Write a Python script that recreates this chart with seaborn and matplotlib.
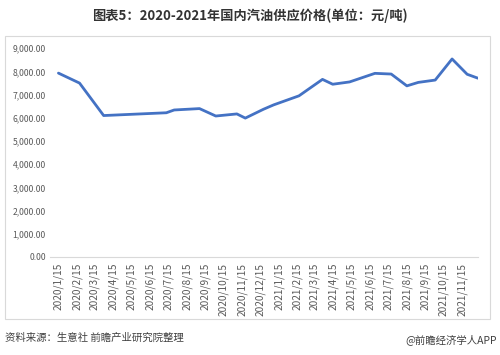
import matplotlib
matplotlib.use("Agg")
import matplotlib.pyplot as plt
from matplotlib.patches import Rectangle
import seaborn as sns
import pandas as pd

title = "图表5：2020-2021年国内汽油供应价格(单位：元/吨)"
source = "资料来源：生意社 前瞻产业研究院整理"
brand = "@前瞻经济学人APP"

dates = ["2020-01-15", "2020-02-19", "2020-03-30", "2020-07-12", "2020-07-25",
         "2020-09-05", "2020-10-02", "2020-11-06", "2020-11-20", "2020-12-20",
         "2021-01-06", "2021-02-17", "2021-03-28", "2021-04-14", "2021-05-12",
         "2021-06-23", "2021-07-20", "2021-08-15", "2021-09-03", "2021-10-01",
         "2021-10-29", "2021-11-23", "2021-12-11"]
prices = [7930, 7500, 6100, 6220, 6340, 6400, 6080, 6170, 5990, 6370,
          6560, 6950, 7660, 7450, 7550, 7920, 7890, 7380, 7530, 7630,
          8540, 7880, 7710]

tick_dates = ["2020-01-15", "2020-02-15", "2020-03-15", "2020-04-15", "2020-05-15",
              "2020-06-15", "2020-07-15", "2020-08-15", "2020-09-15", "2020-10-15",
              "2020-11-15", "2020-12-15", "2021-01-15", "2021-02-15", "2021-03-15",
              "2021-04-15", "2021-05-15", "2021-06-15", "2021-07-15", "2021-08-15",
              "2021-09-15", "2021-10-15", "2021-11-15"]
tick_labels = ["2020/1/15", "2020/2/15", "2020/3/15", "2020/4/15", "2020/5/15",
               "2020/6/15", "2020/7/15", "2020/8/15", "2020/9/15", "2020/10/15",
               "2020/11/15", "2020/12/15", "2021/1/15", "2021/2/15", "2021/3/15",
               "2021/4/15", "2021/5/15", "2021/6/15", "2021/7/15", "2021/8/15",
               "2021/9/15", "2021/10/15", "2021/11/15"]
y_ticks = [0, 1000, 2000, 3000, 4000, 5000, 6000, 7000, 8000, 9000]

sns.set_style("white")
plt.rcParams['font.family'] = ['Noto Sans CJK SC', 'DejaVu Sans']

df = pd.DataFrame({"date": pd.to_datetime(dates), "price": prices})

W, H = 500, 355
fig = plt.figure(figsize=(W / 100, H / 100), dpi=100)
ax = fig.add_axes([50 / W, 1 - 257 / H, (478 - 50) / W, (257 - 48.3) / H])

sns.lineplot(data=df, x="date", y="price", ax=ax, color="#4472C4", linewidth=2.0)

x0 = pd.Timestamp("2020-01-15")
ax.set_xlim(x0 - pd.Timedelta(days=14), pd.Timestamp(dates[-1]))
ax.set_ylim(0, 9000)

ax.set_xticks(pd.to_datetime(tick_dates))
ax.set_xticklabels(tick_labels, rotation=90, fontsize=7.3, color="#595959")
ax.set_yticks(y_ticks)
ax.set_yticklabels([f"{v:,.2f}" for v in y_ticks], fontsize=6.2, color="#595959")
ax.tick_params(axis="x", length=0, pad=4)
ax.tick_params(axis="y", length=0, pad=3)
ax.set_xlabel("")
ax.set_ylabel("")
for s in ["top", "right", "left"]:
    ax.spines[s].set_visible(False)
ax.spines["bottom"].set_color("#D9D9D9")
ax.spines["bottom"].set_linewidth(0.8)
ax.grid(False)

# chart border box
fig.patches.append(Rectangle((5 / W, 1 - 319 / H), (490 - 5) / W, (319 - 36) / H,
                             transform=fig.transFigure, fill=False,
                             edgecolor="#D9D9D9", linewidth=0.8))

fig.text(0.5, 1 - 16 / H, title, ha="center", va="center", fontsize=9.5,
         fontweight="bold", color="#333333")
fig.text(5 / W, 1 - 338 / H, source, ha="left", va="center", fontsize=7.5, color="#404040")
fig.text(497 / W, 1 - 340 / H, brand, ha="right", va="center", fontsize=7.5, color="#404040")

fig.savefig("out.png", dpi=100)
